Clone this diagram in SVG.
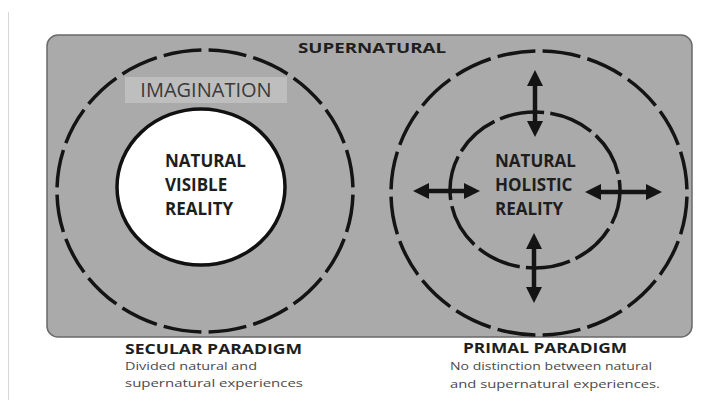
<svg xmlns="http://www.w3.org/2000/svg" width="712" height="402" viewBox="0 0 712 402">
<style>
.bold{font-family:"Open Sans","Liberation Sans",sans-serif;font-weight:bold;fill:#1e1e1e}
.big{font-size:17px}
.small{font-family:"Open Sans","Liberation Sans",sans-serif;font-size:11.5px;fill:#4a4a4a}
.dash{fill:none;stroke:#141414;stroke-width:3.5}
.arrow{stroke:#141414;stroke-width:4.5;fill:none}
</style>
<defs>
<marker id="ah" viewBox="0 0 16 16" refX="2" refY="8" markerWidth="16" markerHeight="16" markerUnits="userSpaceOnUse" orient="auto-start-reverse">
<path d="M0,0 L16,8 L0,16 z" fill="#141414"/>
</marker>
</defs>
<rect width="712" height="402" fill="#ffffff"/>
<line x1="8.5" y1="12" x2="8.5" y2="400" stroke="#d8d8d8" stroke-width="1"/>
<g id="supernatural">
<rect x="47" y="35" width="645" height="302" rx="11" fill="#aaaaaa" stroke="#6a6a6a" stroke-width="1.5"/>
<text class="bold" x="372" y="53" font-size="15" text-anchor="middle" textLength="148" lengthAdjust="spacingAndGlyphs">SUPERNATURAL</text>
</g>
<g id="secular-outer">
<path class="dash" d="M205,50 A148,141 0 1,1 205,332 A148,141 0 1,1 205,50" pathLength="200" stroke-dasharray="8.4 1.6" stroke-dashoffset="9.2"/>
</g>
<g id="imagination">
<rect x="125" y="77" width="162" height="26" fill="#bebebe"/>
<text x="206" y="97" font-family="'Open Sans','Liberation Sans',sans-serif" font-size="20" fill="#3a3a3a" text-anchor="middle">IMAGINATION</text>
</g>
<g id="natural-visible">
<ellipse cx="201" cy="187" rx="84" ry="78" fill="#ffffff" stroke="#111" stroke-width="3.5"/>
<text class="bold big" x="165" y="167">NATURAL</text>
<text class="bold big" x="165" y="191">VISIBLE</text>
<text class="bold big" x="165" y="215">REALITY</text>
</g>
<g id="primal-outer">
<path class="dash" d="M539,51 A148,142 0 1,1 539,335 A148,142 0 1,1 539,51" pathLength="200" stroke-dasharray="8.4 1.6" stroke-dashoffset="9.2"/>
</g>
<g id="natural-holistic">
<ellipse class="dash" cx="535" cy="190" rx="85" ry="78" pathLength="100" stroke-dasharray="8.8 1.2" stroke-dashoffset="2"/>
<text class="bold big" x="495" y="167" fill="#2a2a2a">NATURAL</text>
<text class="bold big" x="495" y="191" fill="#2a2a2a">HOLISTIC</text>
<text class="bold big" x="495" y="215" fill="#2a2a2a">REALITY</text>
</g>
<g id="connectors">
<line class="arrow" x1="535" y1="84" x2="535" y2="123" marker-start="url(#ah)" marker-end="url(#ah)"/>
<line class="arrow" x1="534" y1="247" x2="534" y2="289" marker-start="url(#ah)" marker-end="url(#ah)"/>
<line class="arrow" x1="427" y1="191" x2="466" y2="191" marker-start="url(#ah)" marker-end="url(#ah)"/>
<line class="arrow" x1="599" y1="192" x2="648" y2="192" marker-start="url(#ah)" marker-end="url(#ah)"/>
</g>
<g id="secular-label">
<text class="bold" x="125" y="354" font-size="14" textLength="177" lengthAdjust="spacingAndGlyphs">SECULAR PARADIGM</text>
<text class="small" x="125" y="370" textLength="132" lengthAdjust="spacingAndGlyphs">Divided natural and</text>
<text class="small" x="125" y="387" textLength="178" lengthAdjust="spacingAndGlyphs">supernatural experiences</text>
</g>
<g id="primal-label">
<text class="bold" x="463" y="353" font-size="14" textLength="164" lengthAdjust="spacingAndGlyphs">PRIMAL PARADIGM</text>
<text class="small" x="450" y="370" textLength="202" lengthAdjust="spacingAndGlyphs">No distinction between natural</text>
<text class="small" x="450" y="388" textLength="210" lengthAdjust="spacingAndGlyphs">and supernatural experiences.</text>
</g>
</svg>
